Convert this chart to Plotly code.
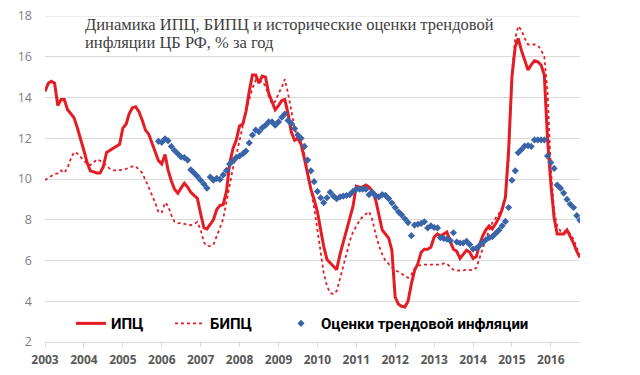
import pandas as pd
import plotly.graph_objects as go

# Monthly data, Jan 2003 .. Oct 2016
months = pd.date_range("2003-01-01", "2016-10-01", freq="MS")

cpi = [
    14.3, 14.7, 14.8, 14.7, 13.6, 13.9, 13.9, 13.4, 13.2, 13.0, 12.5, 12.0,   # 2003
    11.4, 10.8, 10.4, 10.35, 10.3, 10.3, 10.6, 11.3, 11.4, 11.5, 11.6, 11.7,  # 2004
    12.5, 12.7, 13.2, 13.5, 13.55, 13.3, 12.9, 12.4, 12.2, 11.8, 11.4, 10.9,  # 2005
    10.74, 11.2, 10.45, 9.9, 9.5, 9.3, 9.55, 9.79, 9.6, 9.35, 9.2, 9.05,      # 2006
    8.3, 7.6, 7.55, 7.8, 8.0, 8.5, 8.7, 8.75, 9.4, 10.8, 11.5, 11.9,          # 2007
    12.6, 12.7, 13.3, 14.3, 15.1, 15.1, 14.7, 15.05, 15.0, 14.2, 13.8, 13.4,  # 2008
    13.6, 13.85, 13.9, 13.2, 12.3, 11.9, 12.0, 11.7, 11.0, 10.2, 9.5, 9.0,    # 2009
    8.4, 7.5, 6.7, 6.05, 5.9, 5.75, 5.55, 6.3, 6.9, 7.45, 8.0, 8.65,          # 2010
    9.65, 9.6, 9.6, 9.7, 9.6, 9.4, 9.0, 8.3, 7.5, 7.3, 7.1, 6.5,              # 2011
    4.2, 3.85, 3.75, 3.72, 4.0, 4.85, 5.5, 5.85, 6.4, 6.55, 6.55, 6.65,       # 2012
    7.15, 7.3, 7.2, 7.3, 7.4, 6.95, 6.55, 6.45, 6.1, 6.3, 6.5, 6.4,           # 2013
    6.1, 6.2, 6.75, 7.2, 7.5, 7.7, 7.55, 7.8, 8.1, 8.5, 9.1, 11.4,            # 2014
    15.0, 16.5, 16.9, 16.3, 15.8, 15.35, 15.6, 15.8, 15.75, 15.6, 15.1, 12.0, # 2015
    9.8, 8.1, 7.3, 7.3, 7.3, 7.5, 7.2, 6.85, 6.45, 6.15,                      # 2016
]

core_cpi = [
    9.95, 10.05, 10.15, 10.25, 10.28, 10.42, 10.3, 10.55, 11.0, 11.32, 11.25, 11.05,   # 2003
    10.9, 10.74, 10.68, 10.8, 10.97, 10.9, 10.8, 10.66, 10.5, 10.42, 10.42, 10.42,     # 2004
    10.45, 10.5, 10.55, 10.62, 10.62, 10.45, 10.3, 9.95, 9.6, 9.2, 8.84, 8.36,         # 2005
    8.36, 8.84, 8.68, 8.22, 7.9, 7.82, 7.85, 7.8, 7.75, 7.73, 7.8, 7.89,               # 2006
    7.5, 6.9, 6.7, 6.72, 6.78, 7.17, 7.6, 8.05, 8.95, 9.85, 10.55, 11.15,              # 2007
    11.9, 12.65, 13.3, 13.9, 14.45, 14.85, 14.75, 14.8, 14.55, 14.05, 13.7, 13.8,      # 2008
    14.2, 14.5, 14.9, 14.2, 13.3, 12.5, 12.05, 11.8, 11.2, 10.4, 9.4, 8.6,             # 2009
    7.5, 6.4, 5.4, 4.75, 4.4, 4.35, 4.5, 5.1, 5.75, 6.45, 6.95, 7.4,                   # 2010
    7.7, 7.95, 8.15, 8.3, 8.4, 8.0, 7.3, 6.75, 6.3, 6.0, 5.83, 5.67,                   # 2011
    5.5, 5.45, 5.35, 5.25, 5.15, 5.3, 5.6, 5.75, 5.78, 5.8, 5.8, 5.8,                  # 2012
    5.8, 5.8, 5.8, 5.86, 5.85, 5.67, 5.55, 5.5, 5.5, 5.52, 5.55, 5.55,                 # 2013
    5.52, 5.65, 6.1, 6.6, 7.1, 7.5, 7.85, 8.05, 8.3, 8.6, 9.2, 11.0,                   # 2014
    15.2, 16.9, 17.5, 17.3, 16.9, 16.6, 16.6, 16.6, 16.55, 16.35, 16.0, 14.3,          # 2015
    10.5, 8.4, 7.7, 7.45, 7.4, 7.5, 7.3, 7.05, 6.6, 6.3,                               # 2016
]

# Trend inflation estimates, Dec 2005 .. Oct 2016
trend_start = "2005-12-01"
trend = [
    11.85,                                                                     # 2005-12
    11.8, 11.97, 11.88, 11.6, 11.4, 11.24, 11.08, 11.05, 10.93, 10.45, 10.29, 10.13,   # 2006
    9.94, 9.75, 9.55, 10.1, 9.94, 10.03, 9.98, 10.2, 10.42, 10.74, 10.9, 11.05,        # 2007
    11.13, 11.24, 11.37, 11.77, 12.16, 12.4, 12.32, 12.51, 12.64, 12.8, 12.8, 12.64,   # 2008
    12.8, 13.03, 13.19, 12.87, 12.72, 12.48, 12.16, 12.0, 11.6, 10.93, 10.4, 9.87,     # 2009
    9.39, 9.08, 8.84, 9.08, 9.35, 9.16, 9.03, 9.12, 9.16, 9.19, 9.23, 9.39,            # 2010
    9.5, 9.5, 9.5, 9.5, 9.23, 9.35, 9.19, 9.12, 9.23, 9.2, 9.04, 8.82,                 # 2011
    8.6, 8.39, 8.24, 8.05, 7.86, 7.22, 7.74, 7.78, 7.82, 7.9, 7.6, 7.7,                # 2012
    7.62, 7.6, 7.12, 7.08, 7.05, 6.98, 7.36, 6.91, 6.86, 6.86, 6.94, 6.78,             # 2013
    6.56, 6.6, 6.72, 6.88, 7.02, 7.12, 7.17, 7.33, 7.49, 7.7, 7.92, 8.6,               # 2014
    9.94, 10.4, 11.29, 11.45, 11.62, 11.64, 11.6, 11.92, 11.92, 11.92, 11.92, 11.13,   # 2015
    10.81, 10.52, 9.7, 9.55, 9.31, 9.0, 8.76, 8.6, 8.2, 7.97,                          # 2016
]
trend_months = pd.date_range(trend_start, "2016-10-01", freq="MS")

series_names = ["ИПЦ", "БИПЦ", "Оценки трендовой инфляции"]
title_lines = ["Динамика ИПЦ, БИПЦ и исторические оценки трендовой",
               "инфляции ЦБ РФ, % за год"]
y_ticks = [2, 4, 6, 8, 10, 12, 14, 16, 18]

RED = "#e41d25"
BLUE = "#3a64a8"
GRID = "#d9d9d9"

PLOT_W = 640 - 45 - 60
PLOT_H = 375 - 7 - 31

fig = go.Figure()
fig.add_trace(go.Scatter(x=months, y=cpi, mode="lines", name=series_names[0],
                         line=dict(color=RED, width=3), legend="legend"))
fig.add_trace(go.Scatter(x=months, y=core_cpi, mode="lines", name=series_names[1],
                         line=dict(color=RED, width=1.8, dash="dot"), legend="legend2"))
fig.add_trace(go.Scatter(x=trend_months, y=trend, mode="markers", name=series_names[2],
                         marker=dict(color=BLUE, size=5.5, symbol="diamond"), legend="legend3"))

legend_font = dict(family="Roboto", size=15, color="#000000", weight="bold")
def legend_at(px):
    return dict(orientation="h", x=(px - 45) / PLOT_W, xanchor="left",
                y=(344 - 325) / PLOT_H, yanchor="middle",
                bgcolor="rgba(0,0,0,0)", font=legend_font)

title_font = dict(family="Liberation Serif", size=16.5, color="#404040")
annotations = []
for line, ycen in zip(title_lines, [16, 34.5]):
    annotations.append(dict(
        text=line, xref="paper", yref="paper",
        x=(83 - 45) / PLOT_W, xanchor="left", y=(344 - ycen) / PLOT_H, yanchor="middle",
        showarrow=False, align="left", font=title_font,
    ))

fig.update_layout(
    width=640, height=375,
    margin=dict(l=45, r=60, t=7, b=31),
    paper_bgcolor="white", plot_bgcolor="white",
    annotations=annotations,
    # top gridline at the last tick (plotly omits the grid line on the range edge)
    shapes=[dict(type="line", xref="paper", x0=0, x1=1, yref="y",
                 y0=y_ticks[-1], y1=y_ticks[-1], line=dict(color=GRID, width=1),
                 layer="below")],
    legend=legend_at(71), legend2=legend_at(170), legend3=legend_at(281),
    showlegend=True,
)
fig.update_xaxes(
    type="date", range=["2003-01-01", "2016-10-01"],
    dtick="M12", tick0="2003-01-01", tickformat="%Y",
    showgrid=False, showline=True, linecolor=GRID, linewidth=1,
    ticks="outside", ticklen=4, tickcolor=GRID, ticklabelstandoff=3,
    tickfont=dict(family="Open Sans", size=12, color="#595959", weight="bold"),
)
fig.update_yaxes(
    range=[2, 18], tickvals=y_ticks,
    showgrid=True, gridcolor=GRID, gridwidth=1, zeroline=False,
    showline=False, ticks="", ticklabelstandoff=12, ticklabeloverflow="allow",
    tickfont=dict(family="Open Sans", size=12.5, color="#808080"),
)

fig.write_html("out.html", config={"displayModeBar": False},
               post_script="document.body.style.margin='0';")
